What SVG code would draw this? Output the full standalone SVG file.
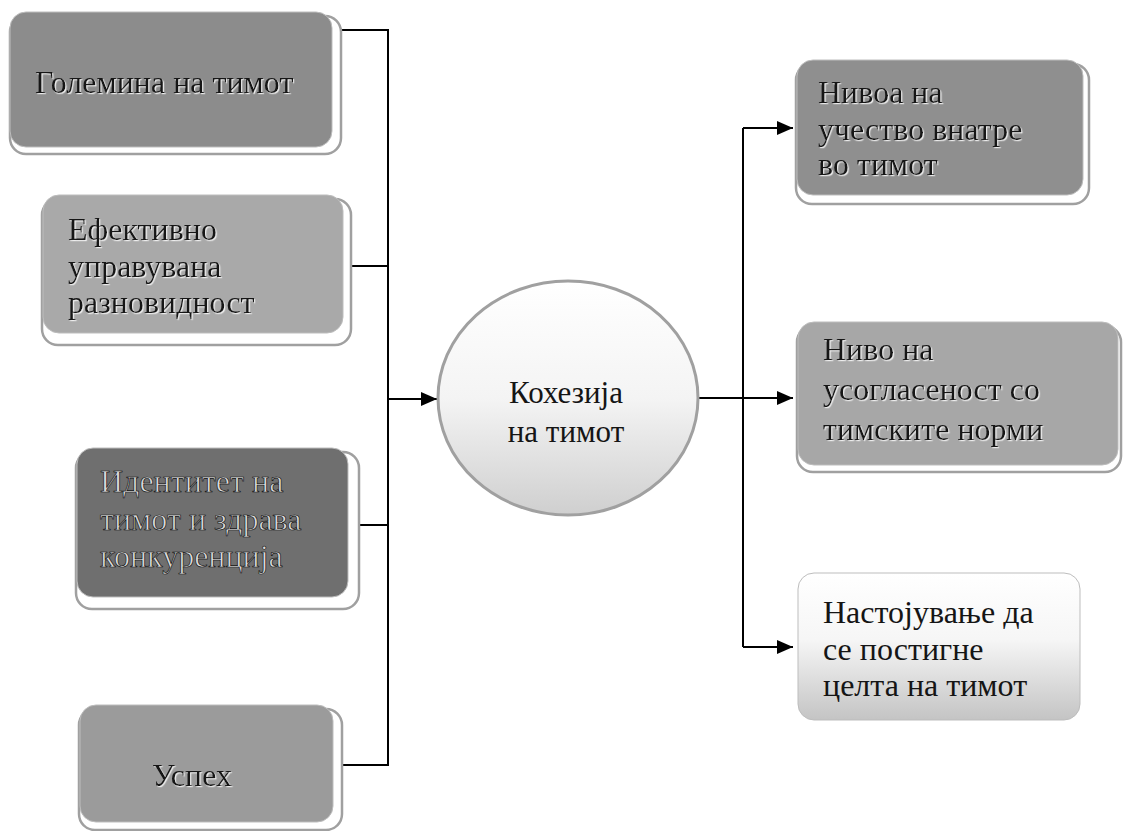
<svg xmlns="http://www.w3.org/2000/svg" width="1128" height="831" viewBox="0 0 1128 831">
<style>
.t{font-family:"Liberation Serif","Times New Roman",serif;font-size:32px;fill:#151515}
.c{font-size:31px}
.emb{filter:url(#emb)}
.out{fill:#dcdcdc;stroke:#111;stroke-width:0.7px}
.sh{fill:#fff;stroke:#a0a0a0;stroke-width:2.5}
.box{stroke:#bdbdbd;stroke-width:1}
.con{fill:none;stroke:#000;stroke-width:2}
</style>
<defs>
<filter id="emb" x="-5%" y="-20%" width="110%" height="140%">
<feDropShadow dx="1.2" dy="1.2" stdDeviation="0.4" flood-color="#f4f4f4" flood-opacity="0.9"/>
</filter>
<linearGradient id="g3" x1="0" y1="0" x2="0" y2="1">
<stop offset="0" stop-color="#ffffff"/><stop offset="0.45" stop-color="#f6f6f6"/><stop offset="1" stop-color="#c4c4c4"/>
</linearGradient>
<linearGradient id="gc" x1="0" y1="0" x2="0" y2="1">
<stop offset="0" stop-color="#ffffff"/><stop offset="0.5" stop-color="#f4f4f4"/><stop offset="1" stop-color="#cfcfcf"/>
</linearGradient>
<marker id="arr" markerUnits="userSpaceOnUse" markerWidth="18" markerHeight="14" refX="16" refY="7" orient="auto">
<path d="M0,0 L16,7 L0,14 Z" fill="#000"/>
</marker>
</defs>
<rect width="1128" height="831" fill="#fff"/>

<g id="connectors">
<path class="con" d="M337,30 H388 V765 H338"/>
<path class="con" d="M352,266 H388"/>
<path class="con" d="M356,525 H388"/>
<path class="con" d="M388,399 H437" marker-end="url(#arr)"/>
<path class="con" d="M698,398 H793" marker-end="url(#arr)"/>
<path class="con" d="M743,128 V647"/>
<path class="con" d="M743,128 H793" marker-end="url(#arr)"/>
<path class="con" d="M743,647 H793" marker-end="url(#arr)"/>
</g>

<g id="node-golemina">
<rect class="sh" x="10" y="16" width="331" height="138" rx="16"/>
<rect class="box" x="10" y="12" width="322" height="135" rx="16" fill="#8c8c8c"/>
<text class="t emb" x="35" y="93">Големина на тимот</text>
</g>

<g id="node-efektivno">
<rect class="sh" x="42" y="199" width="309" height="146" rx="16"/>
<rect class="box" x="43" y="195" width="300" height="138" rx="16" fill="#a9a9a9"/>
<text class="t emb" x="68" y="240">Ефективно</text>
<text class="t emb" x="68" y="277">управувана</text>
<text class="t emb" x="68" y="313">разновидност</text>
</g>

<g id="node-identitet">
<rect class="sh" x="76" y="452" width="283" height="157" rx="16"/>
<rect class="box" x="77" y="448" width="271" height="149" rx="16" fill="#6f6f6f"/>
<text class="t out" x="100" y="492">Идентитет на</text>
<text class="t out" x="100" y="530">тимот и здрава</text>
<text class="t out" x="100" y="567">конкуренција</text>
</g>

<g id="node-uspeh">
<rect class="sh" x="79" y="709" width="263" height="121" rx="16"/>
<rect class="box" x="80" y="705" width="253" height="117" rx="16" fill="#9b9b9b"/>
<text class="t emb" x="192" y="786" text-anchor="middle">Успех</text>
</g>

<g id="node-kohezija">
<ellipse cx="568" cy="398" rx="130" ry="117" fill="url(#gc)" stroke="#a0a0a0" stroke-width="3"/>
<text class="t c" x="566" y="403" text-anchor="middle">Кохезија</text>
<text class="t c" x="566" y="442" text-anchor="middle">на тимот</text>
</g>

<g id="node-nivoa">
<rect class="sh" x="796" y="64" width="293" height="140" rx="16"/>
<rect class="box" x="797" y="60" width="286" height="135" rx="16" fill="#8f8f8f"/>
<text class="t emb" x="818" y="103">Нивоа на</text>
<text class="t emb" x="818" y="140">учество внатре</text>
<text class="t emb" x="818" y="175">во тимот</text>
</g>

<g id="node-nivo">
<rect class="sh" x="797" y="326" width="324" height="146" rx="16"/>
<rect class="box" x="798" y="322" width="320" height="143" rx="16" fill="#a7a7a7"/>
<text class="t emb" x="823" y="360">Ниво на</text>
<text class="t emb" x="823" y="400">усогласеност со</text>
<text class="t emb" x="823" y="440">тимските норми</text>
</g>

<g id="node-nastojuvanje">
<rect class="box" x="798" y="573" width="282" height="147" rx="16" fill="url(#g3)" stroke="#9a9a9a" stroke-width="2"/>
<text class="t" x="823" y="623">Настојување да</text>
<text class="t" x="823" y="660">се постигне</text>
<text class="t" x="823" y="696">целта на тимот</text>
</g>
</svg>
